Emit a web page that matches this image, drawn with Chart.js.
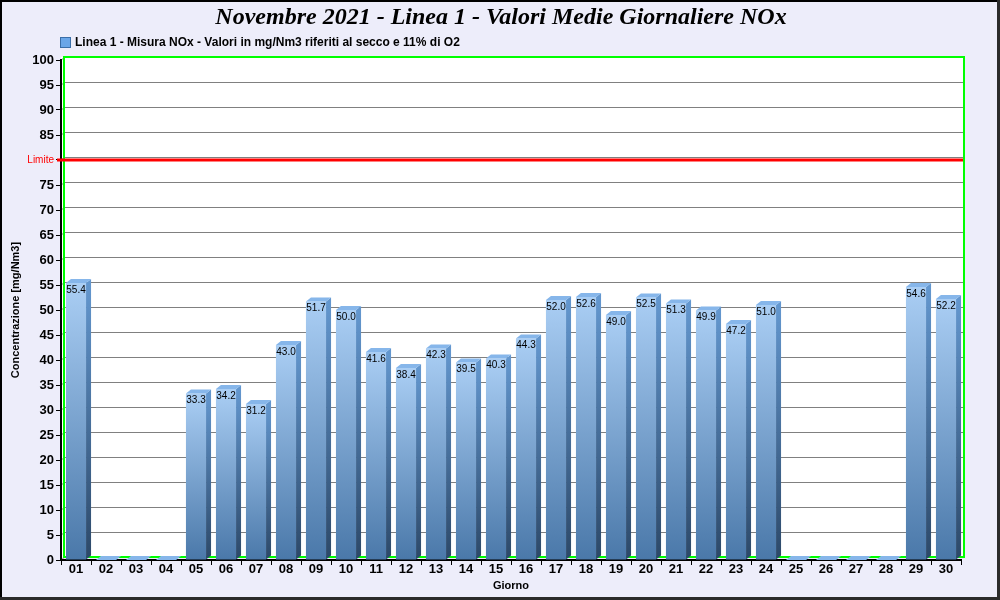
<!DOCTYPE html>
<html>
<head>
<meta charset="utf-8">
<script src="https://cdn.jsdelivr.net/npm/chart.js@4.4.1/dist/chart.umd.min.js"></script>
<style>
  html, body { margin: 0; padding: 0; background: #ededfa; }
  canvas { display: block; }
</style>
</head>
<body>
<canvas id="noxChart" width="1000" height="600"></canvas>
<script>
// giorni del mese e medie giornaliere NOx (mg/Nm3)
const days = ['01','02','03','04','05','06','07','08','09','10',
              '11','12','13','14','15','16','17','18','19','20',
              '21','22','23','24','25','26','27','28','29','30'];
const noxValues = [55.4, 0, 0, 0, 33.3, 34.2, 31.2, 43.0, 51.7, 50.0,
                   41.6, 38.4, 42.3, 39.5, 40.3, 44.3, 52.0, 52.6, 49.0, 52.5,
                   51.3, 49.9, 47.2, 51.0, 0, 0, 0, 0, 54.6, 52.2];
const limitValue = 80;
const chartTitle = 'Novembre 2021 - Linea 1 - Valori Medie Giornaliere NOx';
const legendText = 'Linea 1 - Misura NOx - Valori in mg/Nm3 riferiti al secco e 11% di O2';

const SANS = 'Arial, "Liberation Sans", sans-serif';
const DX = 5, DY = 4;      // profondita' 3D delle barre
const WALL = 3;            // spostamento della parete di fondo

const chartDecor = {
  id: 'chartDecor',
  beforeDraw(chart) {
    const { ctx, chartArea: a, scales } = chart;
    ctx.save();
    ctx.fillStyle = '#ededfa';
    ctx.fillRect(0, 0, chart.width, chart.height);
    ctx.fillStyle = '#ffffff';
    ctx.fillRect(a.left, a.top - WALL, a.right - a.left + WALL, a.bottom - a.top);
    // griglia orizzontale sulla parete di fondo
    ctx.strokeStyle = '#808080';
    ctx.lineWidth = 1;
    scales.y.ticks.forEach(t => {
      const y = Math.round(scales.y.getPixelForValue(t.value)) + 0.5;
      ctx.beginPath();
      ctx.moveTo(a.left, y);
      ctx.lineTo(a.left + WALL, y - WALL);
      ctx.lineTo(a.right + WALL, y - WALL);
      ctx.stroke();
    });
    ctx.strokeStyle = '#00ff00';
    ctx.lineWidth = 2;
    ctx.strokeRect(a.left + WALL, a.top - WALL, a.right - a.left, a.bottom - a.top);
    ctx.restore();
  },
  afterDatasetsDraw(chart) {
    const { ctx, scales } = chart;
    const meta = chart.getDatasetMeta(0);
    ctx.save();
    meta.data.forEach((bar, i) => {
      const left = bar.x - bar.width / 2;
      const right = bar.x + bar.width / 2;
      const top = bar.y, base = bar.base;
      // lato destro
      const side = ctx.createLinearGradient(0, top, 0, base);
      side.addColorStop(0, '#6397cf');
      side.addColorStop(1, '#2c4868');
      ctx.fillStyle = side;
      ctx.beginPath();
      ctx.moveTo(right, top);
      ctx.lineTo(right + DX, top - DY);
      ctx.lineTo(right + DX, base - DY);
      ctx.lineTo(right, base);
      ctx.closePath();
      ctx.fill();
      // faccia superiore
      ctx.fillStyle = '#86b6ea';
      ctx.beginPath();
      ctx.moveTo(left, top);
      ctx.lineTo(left + DX, top - DY);
      ctx.lineTo(right + DX, top - DY);
      ctx.lineTo(right, top);
      ctx.closePath();
      ctx.fill();
      const v = noxValues[i];
      if (v > 0) {
        ctx.fillStyle = '#000000';
        ctx.font = '10px ' + SANS;
        ctx.textAlign = 'center';
        ctx.textBaseline = 'middle';
        ctx.fillText(v.toFixed(1), bar.x, top + 7);
      }
    });
    // linea limite
    const a = chart.chartArea;
    const ly = scales.y.getPixelForValue(limitValue);
    ctx.strokeStyle = '#ff0000';
    ctx.lineWidth = 3;
    ctx.beginPath();
    ctx.moveTo(a.left - 4, ly);
    ctx.lineTo(a.right + 2, ly);
    ctx.stroke();
    ctx.restore();
  },
  afterDraw(chart) {
    const { ctx } = chart;
    ctx.save();
    ctx.fillStyle = '#000000';
    ctx.font = 'italic bold 24px "Times New Roman", "Liberation Serif", serif';
    ctx.textAlign = 'center';
    ctx.textBaseline = 'middle';
    ctx.fillText(chartTitle, 501, 18);
    // legenda
    ctx.fillStyle = '#6aa6e8';
    ctx.fillRect(60, 37, 10, 10);
    ctx.strokeStyle = '#3a6ea8';
    ctx.lineWidth = 1;
    ctx.strokeRect(60.5, 37.5, 10, 10);
    ctx.fillStyle = '#000000';
    ctx.font = 'bold 12px ' + SANS;
    ctx.textAlign = 'left';
    ctx.fillText(legendText, 75, 43);
    // cornice
    ctx.strokeStyle = '#000000';
    ctx.lineWidth = 2;
    ctx.strokeRect(1, 1, chart.width - 2, chart.height - 2);
    ctx.fillStyle = '#2a2a2a';
    ctx.fillRect(chart.width - 3, 0, 3, chart.height);
    ctx.fillRect(0, chart.height - 3, chart.width, 3);
    ctx.restore();
  }
};

new Chart(document.getElementById('noxChart'), {
  type: 'bar',
  data: {
    labels: days,
    datasets: [{
      label: legendText,
      data: noxValues,
      borderWidth: 0,
      barPercentage: 0.67,
      categoryPercentage: 1,
      minBarLength: 0,
      backgroundColor(context) {
        const chart = context.chart;
        const { ctx, chartArea, scales } = chart;
        if (!chartArea) return '#7aa7d8';
        const top = scales.y.getPixelForValue(context.raw);
        const bottom = scales.y.getPixelForValue(0);
        if (bottom - top < 1) return '#86b6ea';
        const g = ctx.createLinearGradient(0, top, 0, bottom);
        g.addColorStop(0, '#aacef4');
        g.addColorStop(1, '#4a78a9');
        return g;
      }
    }]
  },
  options: {
    responsive: false,
    animation: false,
    devicePixelRatio: 1,
    layout: { padding: { top: 60, right: 39, bottom: 0, left: 2 } },
    plugins: {
      legend: { display: false },
      title: { display: false },
      tooltip: { enabled: false }
    },
    scales: {
      x: {
        z: 1,
        grid: { drawOnChartArea: false, tickLength: 5, color: '#000000', offset: true },
        border: { color: '#000000', width: 2 },
        ticks: {
          color: '#000000',
          padding: -3,
          maxRotation: 0,
          autoSkip: false,
          font: { family: SANS, size: 13, weight: 'bold' }
        },
        title: {
          display: true,
          text: 'Giorno',
          color: '#000000',
          padding: { top: 0, bottom: 7 },
          font: { family: SANS, size: 11, weight: 'bold' }
        },
        afterFit(scale) { scale.height = 40; }
      },
      y: {
        min: 0,
        max: 100,
        grid: { drawOnChartArea: false, tickLength: 5, color: '#000000' },
        border: { color: '#000000', width: 2 },
        ticks: {
          stepSize: 5,
          padding: 2,
          color: ctx => ctx.tick && ctx.tick.value === limitValue ? '#ff0000' : '#000000',
          font: ctx => ctx.tick && ctx.tick.value === limitValue
            ? { family: SANS, size: 10, weight: 'normal' }
            : { family: SANS, size: 13, weight: 'bold' },
          callback: v => v === limitValue ? 'Limite' : v
        },
        title: {
          display: true,
          text: 'Concentrazione [mg/Nm3]',
          color: '#000000',
          padding: { top: 7, bottom: 0 },
          font: { family: SANS, size: 11, weight: 'bold' }
        },
        afterFit(scale) { scale.width = 59; }
      }
    }
  },
  plugins: [chartDecor]
});
</script>
</body>
</html>
